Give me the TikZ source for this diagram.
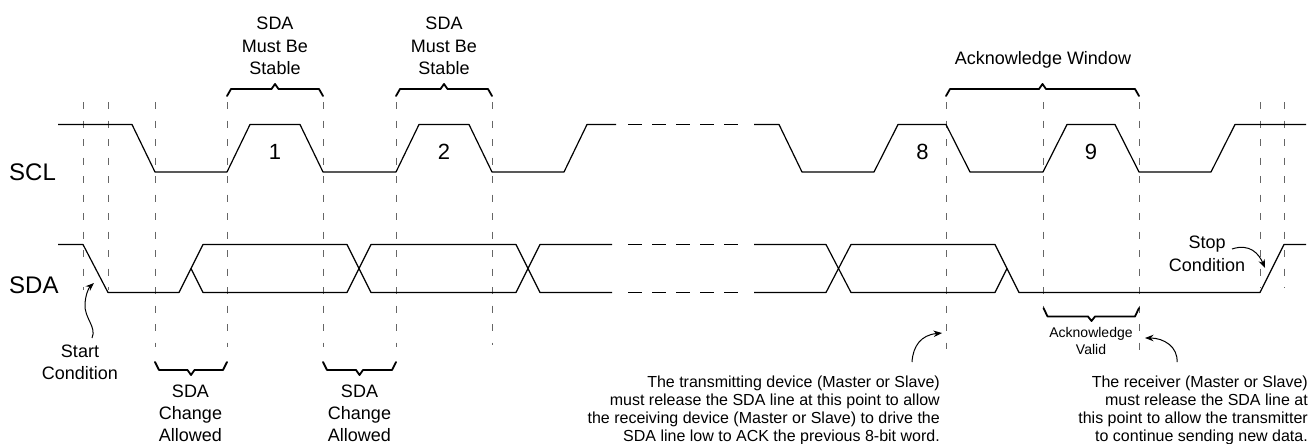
\documentclass[tikz,border=0pt]{standalone}
\usepackage{fontspec}
\setmainfont{Liberation Sans}
\usetikzlibrary{arrows.meta}
\begin{document}
\begin{tikzpicture}[x=1pt,y=-1pt,
  sig/.style={line width=1.2pt, line join=round},
  sigdash/.style={line width=1.2pt, dash pattern=on 13.5pt off 10.6pt},
  guide/.style={black!60, line width=0.9pt, dash pattern=on 7pt off 11.5pt},
  brace/.style={line width=1.8pt, line join=round, line cap=round},
  callout/.style={line width=1pt, -{Stealth[length=8.5pt,width=6.5pt]}},
  lbl/.style={inner sep=0pt, align=center, font=\fontsize{18}{22.5}\selectfont},
  signame/.style={inner sep=0pt, anchor=base west, font=\fontsize{24}{28}\selectfont},
  bitnum/.style={inner sep=0pt, anchor=base, font=\fontsize{22}{26}\selectfont},
  note/.style={inner sep=0pt, align=right, anchor=north east, font=\fontsize{16}{18}\selectfont}]
\useasboundingbox (0,0) rectangle (1314,444);
\def\H{124.5}\def\L{172}
\def\sH{244.5}\def\sL{292.5}\def\sM{268.5}
% guide lines
\foreach \x/\a/\b in {83/102/290, 108/102/290, 155/102/347, 227/102/347, 323/102/347,
  396/102/347, 492/102/345, 946/102/349, 1043/102/306, 1139/102/351, 1260/102/288, 1284/102/288}
  \draw[guide] (\x,\a) -- (\x,\b);
% SCL
\draw[sig] (58,\H) -- (132,\H) -- (155,\L) -- (227,\L) -- (250,\H) -- (300,\H) -- (323,\L)
  -- (396,\L) -- (419,\H) -- (469,\H) -- (492,\L) -- (564,\L) -- (587,\H) -- (616,\H);
\draw[sigdash] (628,\H) -- (738,\H);
\draw[sig] (754,\H) -- (779,\H) -- (802,\L) -- (874,\L) -- (898,\H) -- (946,\H) -- (970,\L)
  -- (1043,\L) -- (1067,\H) -- (1115,\H) -- (1139,\L) -- (1211,\L) -- (1235,\H) -- (1306,\H);
% SDA
\draw[sig] (58,\sH) -- (83,\sH) -- (108,\sL) -- (179,\sL) -- (203,\sH) -- (347,\sH) -- (371,\sL)
  -- (516,\sL) -- (540,\sH) -- (612,\sH);
\draw[sig] (191,\sM) -- (203,\sL) -- (347,\sL) -- (371,\sH) -- (516,\sH) -- (540,\sL) -- (612,\sL);
\draw[sigdash] (628,\sH) -- (738,\sH);
\draw[sigdash] (628,\sL) -- (738,\sL);
\draw[sig] (754,\sH) -- (826,\sH) -- (851,\sL) -- (995,\sL) -- (1007,\sM);
\draw[sig] (754,\sL) -- (826,\sL) -- (851,\sH) -- (995,\sH) -- (1019,\sL) -- (1260,\sL)
  -- (1284,\sH) -- (1306,\sH);
% braces
\foreach \a/\b in {227/323, 396/492, 946/1139}
  \draw[brace] (\a,96) -- (\a+4,89) -- ({(\a+\b)/2-3.5},89) -- ({(\a+\b)/2},84)
    -- ({(\a+\b)/2+3.5},89) -- (\b-4,89) -- (\b,96);
\foreach \a/\b in {155/227, 323/396}
  \draw[brace] (\a,362) -- (\a+4,370) -- ({(\a+\b)/2-3.5},370) -- ({(\a+\b)/2},375)
    -- ({(\a+\b)/2+3.5},370) -- (\b-4,370) -- (\b,362);
\draw[brace] (1043.5,308) -- (1047.5,316.5) -- (1088,316.5) -- (1091.5,321) -- (1095,316.5)
  -- (1135,316.5) -- (1139,308);
% labels
\node[signame] (scl) at (9,180) {SCL};
\node[signame] (sda) at (9,293) {SDA};
\node[bitnum] (b1) at (275,159.5) {1};
\node[bitnum] (b2) at (444,159.5) {2};
\node[bitnum] (b8) at (922.5,159.5) {8};
\node[bitnum] (b9) at (1091,159.5) {9};
\node[lbl, anchor=north] (stab1) at (275,17) {SDA\\Must Be\\Stable};
\node[lbl, anchor=north] (stab2) at (444,17) {SDA\\Must Be\\Stable};
\node[lbl, anchor=base] (ackwin) at (1043,64) {Acknowledge Window};
\node[lbl, anchor=north, font=\fontsize{18}{22}\selectfont] (chg1) at (190.5,385) {SDA\\Change\\Allowed};
\node[lbl, anchor=north, font=\fontsize{18}{22}\selectfont] (chg2) at (359.5,385) {SDA\\Change\\Allowed};
\node[lbl, anchor=north, font=\fontsize{18}{22}\selectfont] (start) at (80,345) {Start\\Condition};
\node[lbl, anchor=north, font=\fontsize{18}{22.5}\selectfont] (stop) at (1207,236) {Stop\\Condition};
\node[lbl, anchor=north, font=\fontsize{14}{17}\selectfont] (ackval) at (1091,327) {Acknowledge\\Valid};
\node[note] (txnote) at (940,375.5) {The transmitting device (Master or Slave)\\must release the SDA line at this point to allow\\the receiving device (Master or Slave) to drive the\\SDA line low to ACK the previous 8-bit word.};
\node[note] (rxnote) at (1308,375.5) {The receiver (Master or Slave)\\must release the SDA line at\\this point to allow the transmitter\\to continue sending new data.};
% callout arrows
\coordinate (startTail) at (92,338);
\coordinate (startTip) at (94,283);
\coordinate (stopTail) at (1232,249);
\coordinate (stopTip) at (1265,268);
\coordinate (txTail) at (912,362);
\coordinate (txTip) at (942,333);
\coordinate (rxTail) at (1177,362);
\coordinate (rxTip) at (1145,338);
\draw[callout] (startTail) .. controls (97,327) and (84,318) .. (85,304) .. controls (85.5,295) and (88.5,288) .. (startTip);
\draw[callout] (stopTail) .. controls (1250,243) and (1259,254) .. (stopTip);
\draw[callout] (txTail) .. controls (913,346) and (921,335) .. (txTip);
\draw[callout] (rxTail) .. controls (1178,347) and (1164,338) .. (rxTip);
\end{tikzpicture}
\end{document}
